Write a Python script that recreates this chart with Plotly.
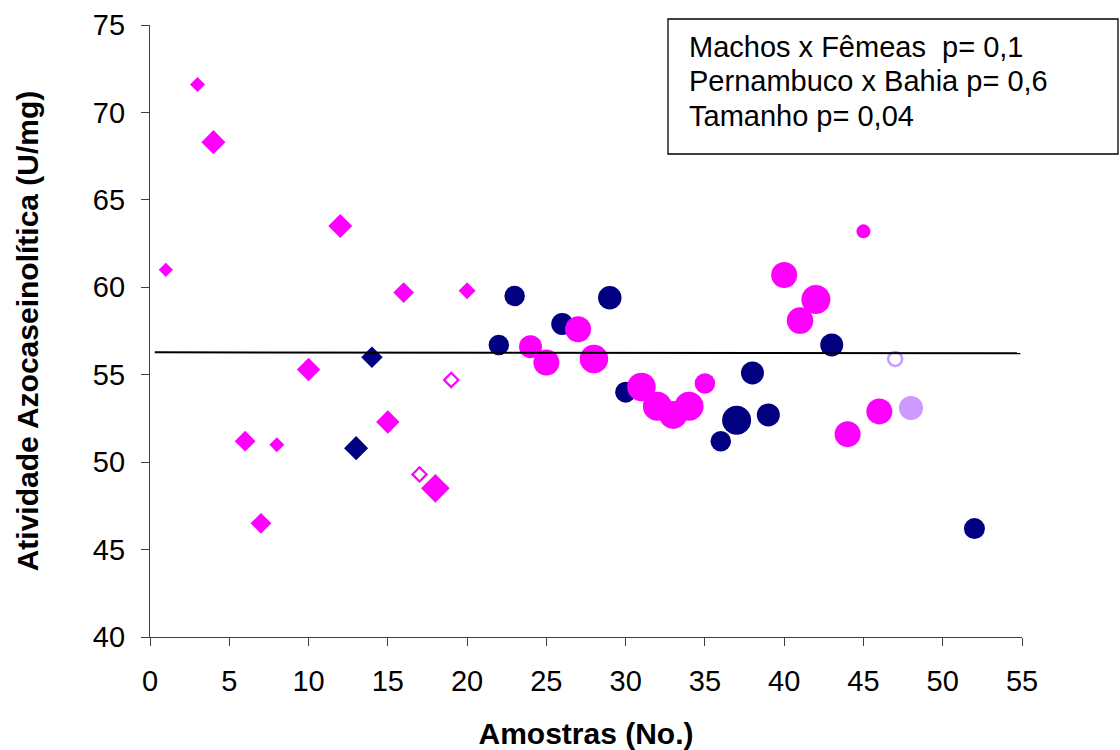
import plotly.graph_objects as go

# ---------------- data ----------------
# Filled magenta diamonds
pink_diamond_x = [1, 3, 4, 6, 7, 8, 10, 12, 15, 16, 18, 20]
pink_diamond_y = [61.0, 71.6, 68.3, 51.2, 46.5, 51.0, 55.3, 63.5, 52.3, 59.7, 48.5, 59.8]
pink_diamond_size = [11, 11.5, 18.5, 16, 16, 11.5, 18, 18.5, 18, 16, 22, 13]

# Hollow magenta diamonds
pink_open_diamond_x = [17, 19]
pink_open_diamond_y = [49.3, 54.7]

# Navy diamonds
navy_diamond_x = [13, 14]
navy_diamond_y = [50.8, 56.0]
navy_diamond_size = [18.5, 16.5]

# Navy circles
navy_circle_x = [22, 23, 26, 29, 30, 36, 37, 38, 39, 43, 52]
navy_circle_y = [56.7, 59.5, 57.9, 59.4, 54.0, 51.2, 52.4, 55.1, 52.7, 56.7, 46.2]
navy_circle_size = [20.5, 20.5, 22, 23.5, 21, 20.5, 29, 23, 23, 23, 21]

# Magenta circles
pink_circle_x = [24, 25, 27, 28, 31, 32, 33, 34, 35, 40, 41, 42, 44, 45, 46]
pink_circle_y = [56.6, 55.7, 57.6, 55.9, 54.3, 53.2, 52.7, 53.2, 54.5, 60.7, 58.1, 59.3, 51.6, 63.2, 52.9]
pink_circle_size = [23, 26, 26, 28.5, 28.5, 29, 28, 29, 20.5, 26, 26.5, 29, 26, 14, 26]

# Lavender circles
lav_circle_x = [48]
lav_circle_y = [53.1]
lav_open_circle_x = [47]
lav_open_circle_y = [55.9]

# Trend line
trend_x = [0.3, 54.9]
trend_y = [56.28, 56.23]

stats_lines = ["Machos x Fêmeas  p= 0,1",
               "Pernambuco x Bahia p= 0,6",
               "Tamanho p= 0,04"]

x_ticks = list(range(0, 56, 5))
y_ticks = list(range(40, 76, 5))

MAGENTA = "#FF00FF"
NAVY = "#000080"
LAVENDER = "#CC99FF"
FONT = "Liberation Sans, Arial, sans-serif"

fig = go.Figure()


def add_markers(x, y, symbol, color, size, line_width=0):
    fig.add_trace(go.Scatter(
        x=x, y=y, mode="markers", showlegend=False, hoverinfo="skip",
        marker=dict(symbol=symbol, color=color, size=size, opacity=1,
                    line=dict(width=line_width, color=color))))


add_markers(navy_circle_x, navy_circle_y, "circle", NAVY, navy_circle_size)
add_markers(pink_circle_x, pink_circle_y, "circle", MAGENTA, pink_circle_size)
add_markers(lav_circle_x, lav_circle_y, "circle", LAVENDER, 24)
add_markers(lav_open_circle_x, lav_open_circle_y, "circle-open", LAVENDER, 14, 2.5)
add_markers(pink_diamond_x, pink_diamond_y, "diamond", MAGENTA, pink_diamond_size)
add_markers(navy_diamond_x, navy_diamond_y, "diamond", NAVY, navy_diamond_size)
add_markers(pink_open_diamond_x, pink_open_diamond_y, "diamond-open", MAGENTA, 11, 2.2)

fig.add_trace(go.Scatter(x=trend_x, y=trend_y, mode="lines", hoverinfo="skip",
                         line=dict(color="black", width=2), showlegend=False))

# stats box
fig.add_shape(type="rect", xref="paper", yref="paper",
              x0=(668 - 150) / 872, x1=(1118 - 150) / 872,
              y0=(637 - 154) / 612, y1=(637 - 19) / 612,
              line=dict(color="black", width=1.3), fillcolor="white", layer="above")
for txt, py in zip(stats_lines, [47, 81, 116]):
    fig.add_annotation(text=txt, xref="paper", yref="paper",
                       x=(687 - 150) / 872, y=(637 - py) / 612,
                       xanchor="left", yanchor="middle", showarrow=False,
                       font=dict(family=FONT, size=29, color="black"))

fig.update_layout(
    width=1120, height=750,
    margin=dict(l=150, r=98, t=25, b=113),
    paper_bgcolor="white", plot_bgcolor="white",
    font=dict(family=FONT, color="black"),
)
fig.update_xaxes(range=[0, 55], tickvals=x_ticks, showgrid=False, zeroline=False,
                 automargin=False,
                 showline=True, linecolor="#404040", linewidth=1.3,
                 ticks="outside", ticklen=8, tickcolor="#404040", tickwidth=1.3,
                 tickfont=dict(family=FONT, size=29, color="black"),
                 ticklabelstandoff=10,
                 title=dict(text="<b>Amostras (No.)</b>", standoff=35,
                            font=dict(family=FONT, size=30, color="black")))
fig.update_yaxes(range=[40, 75], tickvals=y_ticks, showgrid=False, zeroline=False,
                 automargin=False,
                 showline=True, linecolor="#404040", linewidth=1.3,
                 ticks="outside", ticklen=8, tickcolor="#404040", tickwidth=1.3,
                 tickfont=dict(family=FONT, size=29, color="black"),
                 ticklabelstandoff=10,
                 title=dict(text="<b>Atividade Azocaseinolítica (U/mg)</b>", standoff=45,
                            font=dict(family=FONT, size=30, color="black")))

fig.write_html("out.html", config={"displayModeBar": False},
               post_script="document.body.style.margin='0';")
